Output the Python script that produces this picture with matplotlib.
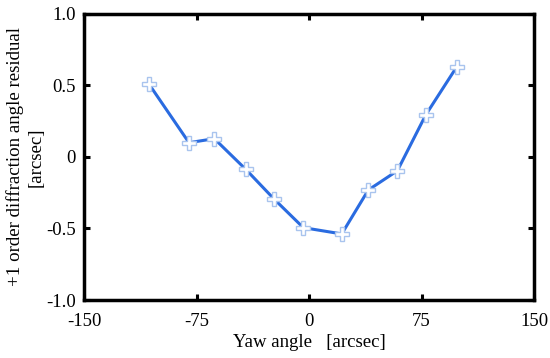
import matplotlib
matplotlib.use("Agg")
import matplotlib.pyplot as plt

# data
yaw = [-106.7, -80.0, -63.1, -42.2, -23.3, -3.8, 21.8, 39.5, 58.9, 77.8, 98.5]
residual = [0.510, 0.100, 0.128, -0.086, -0.294, -0.494, -0.538, -0.231, -0.096, 0.294, 0.631]

xticks = [-150, -75, 0, 75, 150]
yticks = [-1.0, -0.5, 0, 0.5, 1.0]
yticklabels = ["-1.0", "-0.5", "0", "0.5", "1.0"]

plt.rcParams["font.family"] = ["Liberation Serif", "DejaVu Serif"]

fig = plt.figure(figsize=(5.5, 3.58), dpi=100)
ax = fig.add_axes([0.1527, 0.162, 0.8183, 0.799])

ax.plot(yaw, residual, color="#2a6be0", lw=2.2, marker="P", ms=10,
        mfc="white", mec="#a9c4ee", mew=1.0, zorder=3)

ax.set_xlim(-150, 150)
ax.set_ylim(-1.0, 1.0)
ax.set_xticks(xticks)
ax.set_xticklabels([str(t) for t in xticks])
ax.set_yticks(yticks)
ax.set_yticklabels(yticklabels)

for s in ax.spines.values():
    s.set_linewidth(2.5)
ax.tick_params(direction="in", length=4, width=2.2, top=True, right=True,
               labelsize=13.5)
ax.tick_params(axis="x", pad=9)
ax.tick_params(axis="y", pad=6)

ax.set_xlabel("Yaw angle   [arcsec]", fontsize=13.5, labelpad=3)
ax.set_ylabel("+1 order diffraction angle residual\n[arcsec]", fontsize=13.6,
              labelpad=1, linespacing=1.3)

fig.savefig("out.png", dpi=100)
